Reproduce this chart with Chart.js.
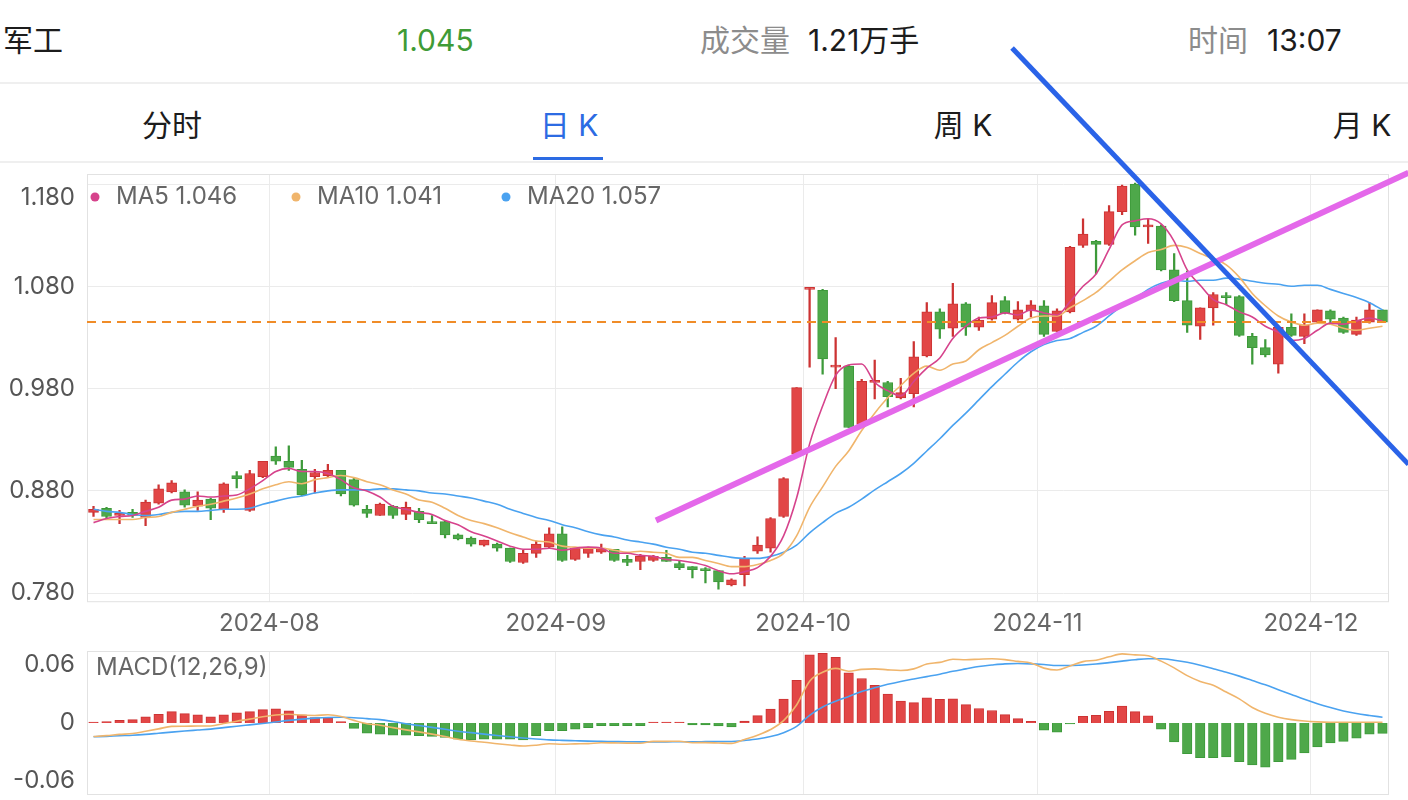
<!DOCTYPE html>
<html lang="zh-CN">
<head>
<meta charset="utf-8">
<title>军工 日K</title>
<script src="https://cdn.jsdelivr.net/npm/chart.js@4.4.1/dist/chart.umd.min.js"></script>
<style>
  html, body { margin: 0; padding: 0; background: #fff; }
  body { width: 1408px; height: 800px; position: relative; overflow: hidden;
         font-family: Inter, "Noto Sans CJK SC", sans-serif; color: #1c1c1c; }
  .t { position: absolute; top: 20px; font-size: 30px; line-height: 40px; white-space: nowrap; }
  .gray { color: #8c8c8c; }
  .sep { position: absolute; left: 0; width: 1408px; height: 2px; background: #efefef; }
  .tab { position: absolute; top: 105px; font-size: 30px; line-height: 40px; white-space: nowrap; transform: translateX(-50%); }
  #kline { position: absolute; left: 0; top: 0; z-index: 2; pointer-events: none; }
  #macd { position: absolute; left: 0; top: 645px; }
</style>
</head>
<body>
<div class="t" style="left:3px">军工</div>
<div class="t" id="price" style="left:397px;color:#3f9b36"></div>
<div class="t gray" style="left:700px">成交量</div>
<div class="t" style="left:808px">1.21万手</div>
<div class="t gray" style="left:1188px">时间</div>
<div class="t" style="left:1267px">13:07</div>
<div class="sep" style="top:82px"></div>
<div class="tab" style="left:172px">分时</div>
<div class="tab" style="left:569px;color:#2c6be3">日 K</div>
<div class="tab" style="left:963px">周 K</div>
<div class="tab" style="left:1362px">月 K</div>
<div style="position:absolute;left:533px;top:157px;width:70px;height:3px;background:#2c6be3"></div>
<div class="sep" style="top:161px"></div>
<canvas id="kline" width="1408" height="645"></canvas>
<canvas id="macd" width="1408" height="155"></canvas>
<script>
// trading days shown on the chart
const months = ['2024-07', '2024-08', '2024-09', '2024-10', '2024-11', '2024-12'];
const monthDays = [
  [12, 15, 16, 17, 18, 19, 22, 23, 24, 25, 26, 29, 30, 31],
  [1, 2, 5, 6, 7, 8, 9, 12, 13, 14, 15, 16, 19, 20, 21, 22, 23, 26, 27, 28, 29, 30],
  [2, 3, 4, 5, 6, 9, 10, 11, 12, 13, 18, 19, 20, 23, 24, 25, 26, 27, 30],
  [8, 9, 10, 11, 14, 15, 16, 17, 18, 21, 22, 23, 24, 25, 28, 29, 30, 31],
  [1, 4, 5, 6, 7, 8, 11, 12, 13, 14, 15, 18, 19, 20, 21, 22, 25, 26, 27, 28, 29],
  [2, 3, 4, 5, 6, 9]
];

const opens = [
  .859, .863, .856, .859, .854, .868, .879, .879, .865, .872,
  .862, .895, .861, .894, .914, .909, .901, .894, .895, .900,
  .891, .862, .856, .865, .857, .860, .850, .850, .837, .834,
  .827, .828, .824, .810, .819, .825, .838, .813, .819, .820,
  .823, .813, .811, .812, .815, .809, .806, .804, .802, .788,
  .798, .821, .824, .855, .916, 1.077, 1.076, 1.001, 1.002, .945,
  .986, .986, .971, .975, 1.012, 1.055, 1.039, 1.063, 1.040, 1.048,
  1.066, 1.048, 1.056, 1.061, 1.036, 1.055, 1.120, 1.124, 1.121, 1.153,
  1.180, 1.138, 1.139, 1.096, 1.066, 1.041, 1.059, 1.070, 1.070, 1.031,
  1.020, 1.004, 1.040, 1.031, 1.045, 1.056, 1.049, 1.033, 1.045, 1.057
];
const highs = [
  .865, .864, .861, .862, .871, .886, .890, .881, .879, .873,
  .888, .899, .900, .909, .923, .924, .910, .901, .906, .900,
  .893, .866, .868, .866, .869, .863, .856, .851, .838, .835,
  .832, .829, .824, .822, .831, .844, .845, .824, .825, .828,
  .823, .817, .818, .817, .822, .812, .806, .805, .802, .794,
  .816, .835, .854, .893, .981, 1.079, 1.077, 1.030, 1.003, .989,
  1.008, .987, .990, 1.026, 1.064, 1.058, 1.083, 1.064, 1.050, 1.071,
  1.070, 1.065, 1.066, 1.066, 1.058, 1.119, 1.146, 1.125, 1.159, 1.179,
  1.181, 1.146, 1.140, 1.112, 1.095, 1.059, 1.074, 1.074, 1.071, 1.034,
  1.028, 1.040, 1.053, 1.053, 1.057, 1.057, 1.050, 1.050, 1.064, 1.057
];
const lows = [
  .855, .853, .848, .854, .846, .867, .878, .864, .861, .852,
  .859, .883, .860, .893, .906, .900, .875, .878, .893, .875,
  .865, .854, .856, .853, .852, .849, .848, .834, .832, .826,
  .826, .821, .810, .809, .815, .824, .811, .812, .815, .819,
  .811, .807, .803, .811, .811, .803, .795, .790, .784, .787,
  .787, .819, .820, .854, .915, 1.001, .994, .980, .942, .944,
  .970, .962, .970, .962, 1.011, 1.029, 1.031, 1.032, 1.037, 1.047,
  1.053, 1.047, 1.050, 1.031, 1.036, 1.054, 1.118, 1.092, 1.120, 1.150,
  1.130, 1.122, 1.095, 1.065, 1.035, 1.028, 1.042, 1.062, 1.031, 1.004,
  1.011, .995, 1.031, 1.024, 1.044, 1.043, 1.034, 1.032, 1.044, 1.045
];
const closes = [
  .862, .855, .858, .856, .869, .882, .888, .866, .871, .863,
  .887, .892, .897, .909, .909, .903, .876, .898, .900, .877,
  .866, .858, .867, .856, .864, .852, .848, .837, .833, .828,
  .832, .824, .811, .819, .828, .838, .812, .824, .824, .824,
  .812, .810, .816, .816, .811, .805, .803, .802, .791, .793,
  .814, .827, .853, .892, .981, 1.079, 1.009, 1.003, .942, .987,
  .988, .972, .976, 1.011, 1.055, 1.038, 1.063, 1.040, 1.047, 1.064,
  1.054, 1.057, 1.062, 1.033, 1.056, 1.118, 1.131, 1.121, 1.153, 1.178,
  1.138, 1.140, 1.096, 1.066, 1.042, 1.059, 1.072, 1.069, 1.032, 1.020,
  1.013, 1.040, 1.032, 1.042, 1.057, 1.048, 1.035, 1.047, 1.057, 1.045
];

const ma5 = [
  .849, .853, .855, .856, .860, .864, .871, .872, .875, .874,
  .875, .876, .882, .890, .899, .902, .899, .899, .897, .891,
  .883, .880, .874, .865, .862, .859, .857, .851, .847, .840,
  .836, .831, .826, .823, .823, .824, .822, .824, .825, .824,
  .819, .819, .817, .816, .813, .812, .810, .807, .802, .799,
  .801, .805, .816, .836, .873, .926, .963, .993, 1.003, 1.004,
  .986, .978, .973, .987, 1.000, 1.010, 1.029, 1.041, 1.049, 1.050,
  1.054, 1.052, 1.057, 1.054, 1.052, 1.065, 1.080, 1.092, 1.116, 1.140,
  1.144, 1.146, 1.141, 1.124, 1.096, 1.081, 1.067, 1.062, 1.055, 1.050,
  1.041, 1.035, 1.027, 1.029, 1.037, 1.044, 1.043, 1.046, 1.049, 1.046
];
const ma10 = [
  .852, .852, .852, .852, .854, .855, .859, .862, .865, .867,
  .870, .873, .877, .882, .886, .889, .887, .891, .893, .895,
  .893, .889, .886, .881, .877, .871, .869, .863, .856, .851,
  .848, .844, .839, .835, .831, .830, .826, .825, .824, .824,
  .822, .820, .821, .820, .819, .815, .815, .812, .809, .806,
  .806, .808, .812, .819, .836, .864, .884, .904, .919, .939,
  .956, .971, .983, .995, 1.002, .998, 1.004, 1.007, 1.018, 1.025,
  1.032, 1.041, 1.049, 1.051, 1.051, 1.059, 1.066, 1.074, 1.085, 1.096,
  1.105, 1.113, 1.116, 1.120, 1.118, 1.112, 1.107, 1.101, 1.089, 1.073,
  1.061, 1.051, 1.045, 1.042, 1.044, 1.043, 1.039, 1.037, 1.039, 1.041
];
const ma20 = [
  .862, .860, .859, .857, .856, .857, .859, .860, .860, .861,
  .862, .862, .863, .867, .870, .873, .875, .878, .880, .881,
  .881, .881, .882, .882, .881, .880, .878, .877, .875, .873,
  .870, .867, .862, .858, .854, .851, .847, .844, .840, .837,
  .835, .832, .830, .828, .825, .823, .820, .819, .817, .815,
  .814, .814, .816, .820, .827, .839, .849, .858, .864, .872,
  .881, .889, .897, .907, .919, .931, .944, .956, .969, .982,
  .994, 1.006, 1.016, 1.023, 1.027, 1.029, 1.035, 1.041, 1.051, 1.061,
  1.068, 1.077, 1.083, 1.086, 1.085, 1.086, 1.086, 1.088, 1.087, 1.085,
  1.083, 1.082, 1.080, 1.081, 1.081, 1.077, 1.073, 1.069, 1.064, 1.057
];

const macdHist = [
  .001, .0014, .0028, .0035, .0063, .009, .0118, .0097, .0084, .0063,
  .0084, .0104, .0118, .0139, .0146, .0125, .0084, .0056, .0056, .0014,
  -.0056, -.0104, -.0115, -.0125, -.0125, -.0132, -.0139, -.015, -.0167, -.0174,
  -.0167, -.0167, -.0167, -.0174, -.0132, -.008, -.008, -.0063, -.0049, -.0028,
  -.0028, -.0028, -.0028, .001, .001, .001, -.002, -.002, -.003, -.004,
  .002, .0077, .0143, .0247, .0442, .0706, .072, .068, .052, .046,
  .039, .030, .0226, .021, .026, .0244, .025, .019, .015, .0129,
  .0087, .0045, .0017, -.0073, -.0094, -.001, .007, .008, .012, .0174,
  .0118, .0073, -.0063, -.0195, -.0317, -.0358, -.0358, -.035, -.040, -.0435,
  -.0456, -.040, -.0376, -.031, -.0247, -.0205, -.019, -.0157, -.0115, -.0108
];
const dif = [
  -.0139, -.0131, -.0118, -.0109, -.0086, -.0061, -.0035, -.0034, -.0031, -.0031,
  -.0006, .0019, .0040, .0065, .0083, .0090, .0082, .0078, .0085, .0067,
  .0027, -.0007, -.0023, -.0048, -.0071, -.0092, -.0115, -.0140, -.0169, -.0187,
  -.0199, -.0214, -.0227, -.0238, -.0230, -.0215, -.0220, -.0216, -.0213, -.0204,
  -.0206, -.0208, -.0209, -.0190, -.0190, -.0189, -.0204, -.0203, -.0207, -.0211,
  -.0170, -.0126, -.0068, .0024, .0186, .0433, .0525, .0565, .0535, .0555,
  .0560, .0550, .0543, .0560, .0610, .0627, .0660, .0655, .0660, .0665,
  .0656, .0638, .0621, .0568, .0548, .0590, .0635, .0650, .0685, .0715,
  .0705, .0695, .0640, .0570, .0490, .0430, .0390, .0320, .0250, .0160,
  .0100, .0060, .0035, .0020, .0012, .0008, .0007, .0007, .0007, .0007
];
const dea = [
  -.0143, -.0138, -.0132, -.0127, -.0118, -.0106, -.0094, -.0083, -.0073, -.0063,
  -.0048, -.0033, -.0019, -.0005, .0010, .0027, .0040, .0050, .0057, .0060,
  .0055, .0045, .0035, .0015, -.0008, -.0026, -.0045, -.0065, -.0085, -.0100,
  -.0115, -.0130, -.0143, -.0155, -.0166, -.0175, -.0180, -.0184, -.0188, -.0190,
  -.0192, -.0194, -.0195, -.0195, -.0195, -.0194, -.0194, -.0193, -.0192, -.0191,
  -.0180, -.0165, -.0140, -.0100, -.0035, .0080, .0165, .0225, .0275, .0325,
  .0365, .0400, .0430, .0455, .0480, .0505, .0535, .0560, .0585, .0600,
  .0612, .0615, .0612, .0605, .0595, .0595, .0600, .0610, .0625, .0640,
  .0655, .0665, .0665, .0650, .0628, .0598, .0562, .0525, .0485, .0440,
  .0395, .0345, .0295, .0245, .0200, .0160, .0125, .0098, .0078, .0060
];

const priceTicks = [0.78, 0.88, 0.98, 1.08, 1.18];
const macdTicks = [-0.06, 0, 0.06];

// hand-drawn trend lines: [candle index, price] at each end
const supportLine = [[43.2, 0.851], [101, 1.191]];
const pressureLine = [[70.55, 1.313], [101, 0.906]];

const FONT = 'Inter, "Noto Sans CJK SC", sans-serif';
const UP = '#e24646', UP_EDGE = '#cc3333', DOWN = '#4ea84a', DOWN_EDGE = '#3d9a3a';
const MA5C = '#d6438c', MA10C = '#f0b56c', MA20C = '#4aa2f0';

Chart.defaults.font.family = FONT;

const dates = months.flatMap((m, k) => monthDays[k].map(d => m + '-' + String(d).padStart(2, '0')));
const N = closes.length;
const idx = closes.map((_, i) => i);
const monthTicks = idx.filter(i => i > 0 && dates[i].slice(0, 7) !== dates[i - 1].slice(0, 7));
const isUp = i => closes[i] >= opens[i];
const pts = arr => arr.map((y, x) => ({ x, y }));
const seg = line => line.map(([x, y]) => ({ x, y }));

document.getElementById('price').textContent = closes[N - 1].toFixed(3);

function xAxis(showLabels) {
  return {
    type: 'linear', min: -0.5, max: N - 0.5, offset: false,
    afterBuildTicks: s => { s.ticks = monthTicks.map(i => ({ value: i - 0.5 })); },
    ticks: {
      display: showLabels, autoSkip: false, maxRotation: 0, padding: 7, color: '#666',
      font: { size: 24 },
      callback: (v, k) => dates[monthTicks[k]].slice(0, 7)
    },
    grid: { color: '#ebebeb', drawTicks: false, offset: false },
    border: { display: false }
  };
}

const frame = {
  id: 'frame',
  beforeDatasetsDraw(chart) {
    const { ctx, chartArea: a } = chart;
    ctx.save();
    ctx.strokeStyle = '#e2e2e2';
    ctx.lineWidth = 1;
    ctx.strokeRect(a.left + 0.5, a.top + 0.5, a.width - 1, a.height - 1);
    ctx.restore();
  }
};

// value labels left of the plot; the top one is pushed down so it stays inside
function yLabels(ticks, digits, topGap) {
  return {
    id: 'yLabels',
    afterDraw(chart) {
      const { ctx, chartArea: a, scales: { y } } = chart;
      ctx.save();
      ctx.font = '24px ' + FONT;
      ctx.fillStyle = '#555';
      ctx.textAlign = 'right';
      ctx.textBaseline = 'middle';
      ticks.forEach(v => {
        const py = Math.max(y.getPixelForValue(v), a.top + topGap);
        ctx.fillText(v === 0 ? '0' : v.toFixed(digits), a.left - 12, py);
      });
      ctx.restore();
    }
  };
}

const maLegend = {
  id: 'maLegend',
  afterDraw(chart) {
    const { ctx, chartArea: a } = chart;
    const items = [['MA5', ma5, MA5C, 0], ['MA10', ma10, MA10C, 201], ['MA20', ma20, MA20C, 411]];
    ctx.save();
    ctx.font = '24px ' + FONT;
    ctx.textBaseline = 'middle';
    ctx.textAlign = 'left';
    items.forEach(([name, arr, color, dx]) => {
      const x = a.left + 8 + dx, y = a.top + 23;
      ctx.fillStyle = color;
      ctx.beginPath();
      ctx.arc(x, y, 4.5, 0, Math.PI * 2);
      ctx.fill();
      ctx.fillStyle = '#666';
      ctx.fillText(name + ' ' + arr[N - 1].toFixed(3), x + 21, y);
    });
    ctx.restore();
  }
};

const macdTitle = {
  id: 'macdTitle',
  afterDraw(chart) {
    const { ctx, chartArea: a } = chart;
    ctx.save();
    ctx.font = '24px ' + FONT;
    ctx.fillStyle = '#666';
    ctx.textBaseline = 'middle';
    ctx.fillText('MACD(12,26,9)', a.left + 9, a.top + 17);
    ctx.restore();
  }
};

const line = (data, color, width, order) => ({
  type: 'line', data, borderColor: color, borderWidth: width, pointRadius: 0,
  cubicInterpolationMode: 'monotone', order
});

new Chart(document.getElementById('kline'), {
  type: 'bar',
  data: {
    datasets: [
      { type: 'line', data: seg(pressureLine), borderColor: '#2a63e8', borderWidth: 5, pointRadius: 0, clip: false, order: 0 },
      { type: 'line', data: seg(supportLine), borderColor: '#e468ea', borderWidth: 6, pointRadius: 0, clip: false, order: 1 },
      { type: 'line', data: [{ x: -0.5, y: closes[N - 1] }, { x: N - 0.5, y: closes[N - 1] }],
        borderColor: '#f08c28', borderWidth: 2, borderDash: [9, 6], pointRadius: 0, order: 2 },
      line(pts(ma5), MA5C, 1.6, 3),
      line(pts(ma10), MA10C, 1.6, 4),
      line(pts(ma20), MA20C, 1.6, 5),
      {
        data: idx.map(i => ({ x: i, y: [opens[i], closes[i]] })),
        backgroundColor: idx.map(i => isUp(i) ? UP : DOWN),
        borderColor: idx.map(i => isUp(i) ? UP_EDGE : DOWN_EDGE),
        borderWidth: 1, borderSkipped: false, barThickness: 10, minBarLength: 2,
        grouped: false, order: 6
      },
      {
        data: idx.map(i => ({ x: i, y: [lows[i], highs[i]] })),
        backgroundColor: idx.map(i => isUp(i) ? UP_EDGE : DOWN_EDGE),
        borderWidth: 0, barThickness: 1.6, grouped: false, order: 7
      }
    ]
  },
  options: {
    responsive: false,
    devicePixelRatio: 1,
    animation: false,
    events: [],
    layout: { padding: { top: 174, right: 19, bottom: 0, left: 0 } },
    plugins: { legend: { display: false }, tooltip: { enabled: false } },
    scales: {
      x: xAxis(true),
      y: {
        min: 0.7712, max: 1.1898, beginAtZero: false,
        afterBuildTicks: s => { s.ticks = priceTicks.map(v => ({ value: v })); },
        afterFit: s => { s.width = 87; },
        ticks: { display: false },
        grid: { color: '#ebebeb', drawTicks: false },
        border: { display: false }
      }
    }
  },
  plugins: [frame, yLabels(priceTicks, 3, 24), maLegend]
});

new Chart(document.getElementById('macd'), {
  type: 'bar',
  data: {
    datasets: [
      line(pts(dif), MA10C, 1.6, 0),
      line(pts(dea), MA20C, 1.6, 1),
      {
        data: pts(macdHist),
        backgroundColor: macdHist.map(v => v >= 0 ? UP : DOWN),
        borderColor: macdHist.map(v => v >= 0 ? UP_EDGE : DOWN_EDGE),
        borderWidth: 1, barThickness: 9.5, grouped: false, order: 2
      }
    ]
  },
  options: {
    responsive: false,
    devicePixelRatio: 1,
    animation: false,
    events: [],
    layout: { padding: { top: 6, right: 19, bottom: 5, left: 0 } },
    plugins: { legend: { display: false }, tooltip: { enabled: false } },
    scales: {
      x: xAxis(false),
      y: {
        min: -0.0745, max: 0.0745, beginAtZero: false,
        afterBuildTicks: s => { s.ticks = macdTicks.map(v => ({ value: v })); },
        afterFit: s => { s.width = 87; },
        ticks: { display: false },
        grid: { display: false },
        border: { display: false }
      }
    }
  },
  plugins: [frame, yLabels(macdTicks, 2, 0), macdTitle]
});
</script>
</body>
</html>
